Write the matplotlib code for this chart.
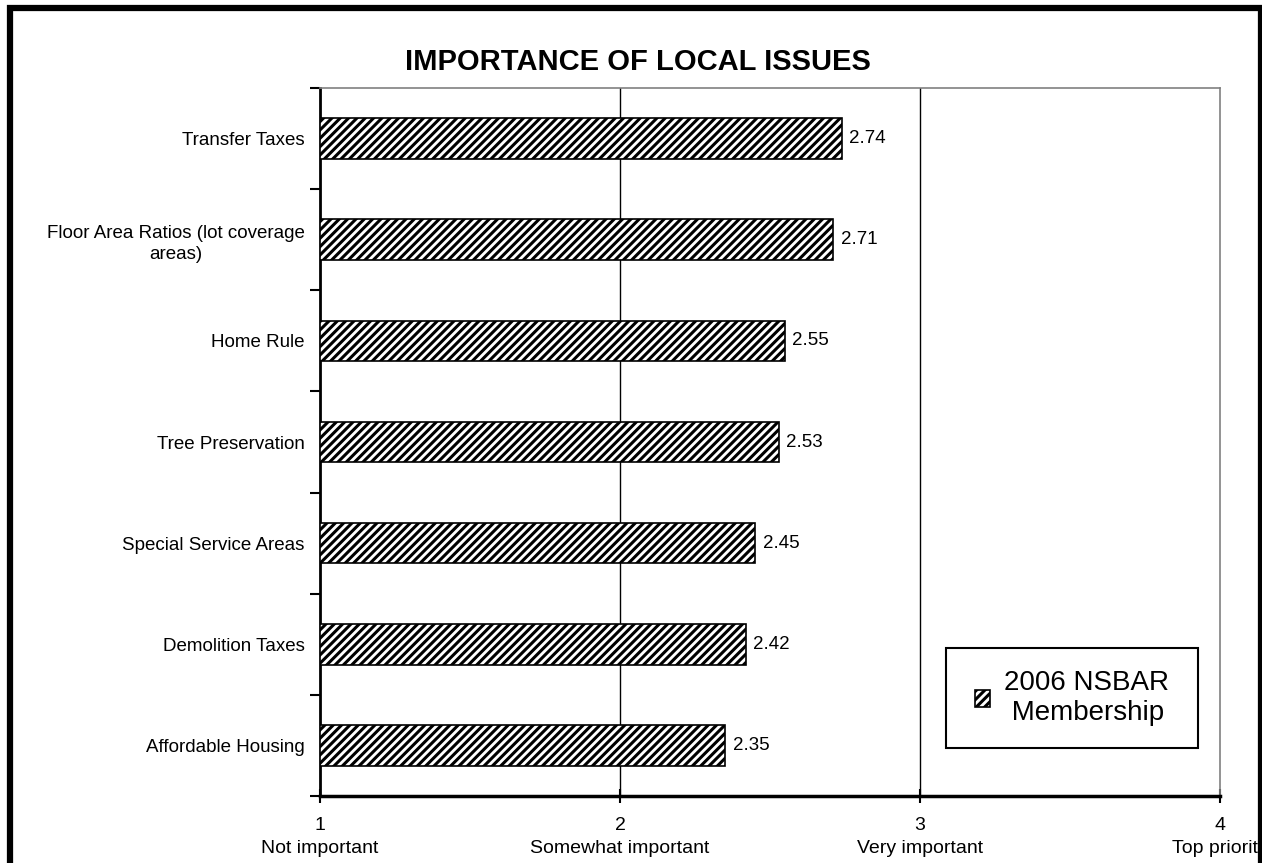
import matplotlib.pyplot as plt
import numpy as np
from matplotlib.patches import Rectangle

plt.rcParams["font.family"] = ["Liberation Sans", "DejaVu Sans"]
plt.rcParams["hatch.linewidth"] = 2.2

# Chart data, top to bottom as shown.
issues = [
    "Transfer Taxes",
    "Floor Area Ratios (lot coverage\nareas)",
    "Home Rule",
    "Tree Preservation",
    "Special Service Areas",
    "Demolition Taxes",
    "Affordable Housing",
]
scores = [2.74, 2.71, 2.55, 2.53, 2.45, 2.42, 2.35]
scale_levels = [1, 2, 3, 4]
scale_labels = ["Not important", "Somewhat important", "Very important", "Top priority"]
series_name = "2006 NSBAR\n Membership"

W, H = 1262, 863
fig = plt.figure(figsize=(W / 100, H / 100), dpi=100)
ax = fig.add_axes([320 / W, 1 - 796 / H, 900 / W, 708 / H])

ypos = np.arange(len(issues))
base = scale_levels[0]
bars = ax.barh(
    ypos,
    np.array(scores) - base,
    left=base,
    height=0.4,
    color="white",
    edgecolor="black",
    linewidth=1.2,
    hatch="////",
    label=series_name,
    zorder=3,
)
for b, v in zip(bars, scores):
    ax.text(
        b.get_x() + b.get_width() + 0.025,
        b.get_y() + b.get_height() / 2,
        f"{v:.2f}",
        va="center",
        ha="left",
        fontsize=13.5,
        zorder=4,
    )

ax.set_xlim(scale_levels[0], scale_levels[-1])
ax.set_ylim(len(issues) - 0.5, -0.5)

# Vertical gridlines at the inner scale levels.
for lvl in scale_levels[1:-1]:
    ax.axvline(lvl, color="black", linewidth=1.0, zorder=1)

ax.set_xticks(scale_levels)
ax.set_xticklabels([f"{l}\n{t}" for l, t in zip(scale_levels, scale_labels)],
                   fontsize=14, linespacing=1.5)
ax.tick_params(axis="x", direction="inout", length=10, width=1.5, pad=10)

# Category labels as minor ticks, boundary ticks as major.
ax.set_yticks(np.arange(len(issues) + 1) - 0.5)
ax.set_yticklabels([])
ax.set_yticks(ypos, minor=True)
ax.set_yticklabels(issues, minor=True, fontsize=13.5, multialignment="center",
                   linespacing=1.3)
ax.tick_params(axis="y", which="major", direction="out", length=7, width=1.5)
ax.tick_params(axis="y", which="minor", length=0, pad=11)

for side in ("top", "right"):
    ax.spines[side].set_color("#808080")
    ax.spines[side].set_linewidth(1.2)
ax.spines["left"].set_linewidth(2)
ax.spines["bottom"].set_linewidth(2.5)

# Legend: fixed box with the entry centred inside it.
lx0, ly0 = (946 - 320) / 900, (796 - 748) / 708
lw, lh = (1198 - 946) / 900, 100 / 708
ax.add_patch(Rectangle((lx0, ly0), lw, lh, transform=ax.transAxes, fill=False,
                       edgecolor="black", linewidth=1.5, zorder=5))
leg = ax.legend(
    loc="center",
    bbox_to_anchor=(lx0 + lw / 2, ly0 + lh / 2),
    fontsize=20,
    frameon=False,
    handlelength=0.55,
    handleheight=0.55,
    handletextpad=0.5,
    borderpad=0,
    borderaxespad=0,
)

fig.text(638 / W, 1 - 62 / H, "IMPORTANCE OF LOCAL ISSUES", ha="center", va="center",
         fontsize=21, fontweight="bold")

# Outer frame around the whole chart (bottom edge falls outside the picture).
fig.patches.append(
    Rectangle((10 / W, -20 / H), 1251 / W, (H - 8 + 20) / H, transform=fig.transFigure,
              fill=False, edgecolor="black", linewidth=4.5, clip_on=False)
)

fig.savefig("out.png", dpi=100)
